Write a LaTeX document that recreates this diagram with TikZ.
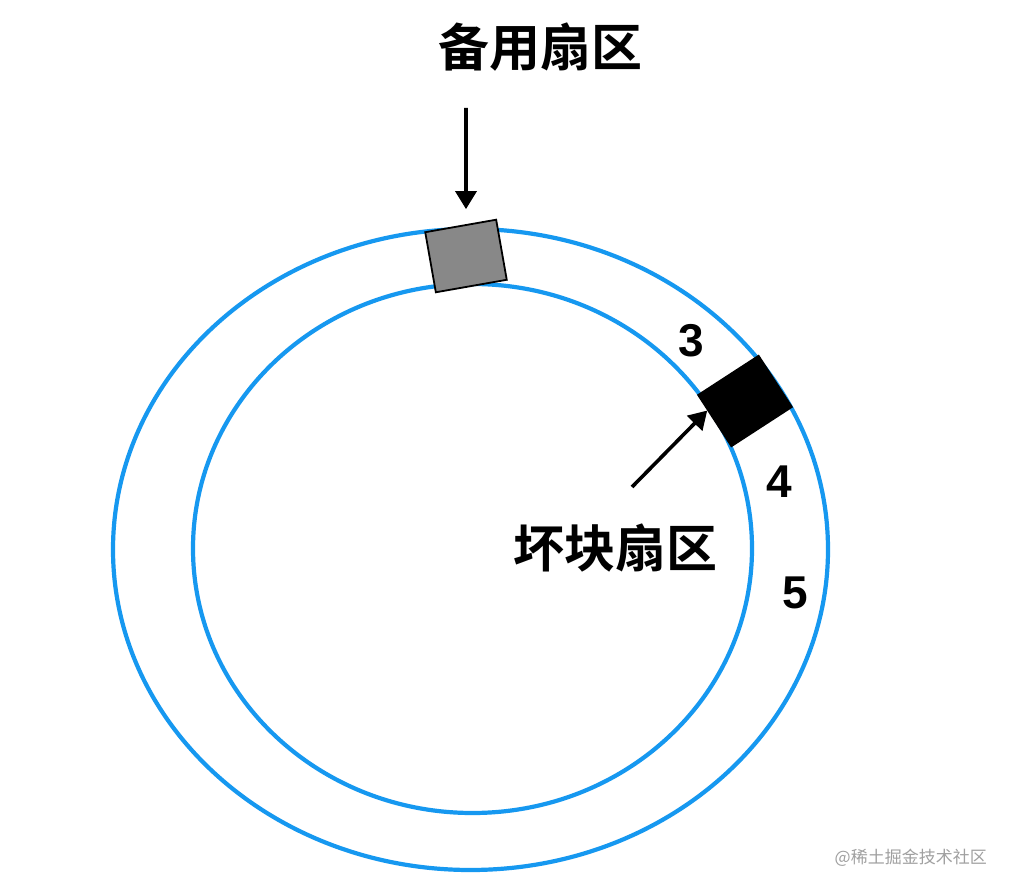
\documentclass[tikz,border=0pt]{standalone}
\usepackage{fontspec}
\newfontfamily\cjkb{Noto Sans CJK SC Bold}
\newfontfamily\cjkr{Noto Sans CJK SC}
\newfontfamily\digitfont{Liberation Sans Bold}
\usetikzlibrary{arrows.meta,calc}
\definecolor{trackblue}{RGB}{22,152,240}
\definecolor{sparegray}{RGB}{136,136,136}
\definecolor{wmgray}{RGB}{160,160,160}
\tikzset{
  track/.style={draw=trackblue, line width=4.2pt},
  sector/.style={draw=black, line width=1.8pt, minimum width=72pt, minimum height=61pt, inner sep=0pt},
  arr/.style={line width=3.6pt, -{Triangle[width=21pt,length=18pt]}},
  bigcjk/.style={font=\cjkb\fontsize{51pt}{51pt}\selectfont, inner sep=0pt, anchor=base},
  num/.style={font=\digitfont\fontsize{46pt}{46pt}\selectfont, inner sep=0pt, anchor=base},
}
\begin{document}
\begin{tikzpicture}[x=1pt,y=-1pt]
\useasboundingbox[fill=white] (0,0) rectangle (1012,890);
% tracks
\draw[track] (470.5,549.5) ellipse [x radius=357.5, y radius=320.5];
\draw[track] (472.5,548.5) ellipse [x radius=279.5, y radius=264.5];
% sectors
\node[sector, fill=sparegray, rotate=10] (spare) at (466,256) {};
\node[sector, fill=black, rotate=33] (bad) at (745,401) {};
% labels
\node[bigcjk] (sparelabel) at (540,67) {备用扇区};
\node[bigcjk] (badlabel) at (615,567) {坏块扇区};
\node[num] (n3) at (691,357) {3};
\node[num] (n4) at (779,497) {4};
\node[num] (n5) at (795,608) {5};
% arrows
\coordinate (sparestart) at (466,108);
\coordinate (badstart) at (632,487);
\draw[arr, shorten >=15pt] (sparestart) -- (spare);
\draw[arr] (badstart) -- ($(bad.north west)!0.3!(bad.south west)$);
% watermark
\node[font=\cjkr\fontsize{17pt}{17pt}\selectfont, text=wmgray, inner sep=0pt, anchor=base east] (wm) at (987,863) {@稀土掘金技术社区};
\end{tikzpicture}
\end{document}
